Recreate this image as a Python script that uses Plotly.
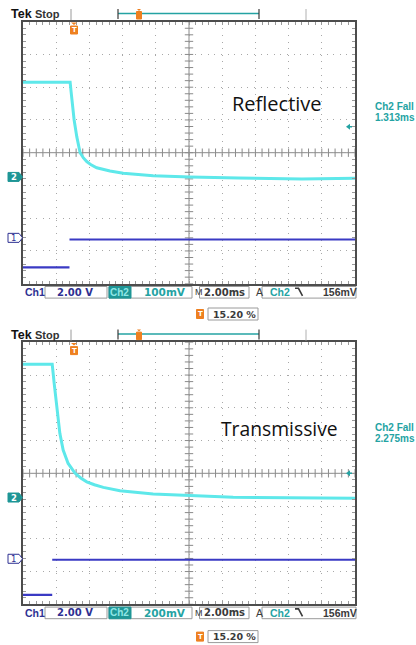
import numpy as np
import plotly.graph_objects as go

# ---------------- data (screen divisions: x 0..10, y -4..4) ----------------
ref_ch2_t = [0, 1.42, 1.45, 1.48, 1.54, 1.62, 1.72, 1.82, 1.92, 2.05, 2.22, 2.62, 3.02, 3.92, 5.03, 6.5, 8.4, 10]
ref_ch2_v = [2.15, 2.15, 1.85, 1.51, 1.00, 0.49, 0.00, -0.16, -0.27, -0.37, -0.46, -0.56, -0.63, -0.70, -0.74, -0.77, -0.80, -0.78]
ref_ch1_step = 1.40
ref_ch1_low = -3.50
ref_ch1_high = -2.65

trans_ch2_t = [0, 0.88, 0.94, 0.99, 1.05, 1.11, 1.21, 1.36, 1.57, 1.75, 1.92, 2.15, 2.42, 2.92, 3.92, 5.03, 6.33, 8.0, 10]
trans_ch2_v = [3.33, 3.33, 2.74, 2.23, 1.73, 1.22, 0.71, 0.30, 0.00, -0.15, -0.26, -0.35, -0.43, -0.53, -0.63, -0.68, -0.73, -0.75, -0.76]
trans_ch1_step = 0.88
trans_ch1_low = -3.71
trans_ch1_high = -2.64

panel_titles = ["Reflective", "Transmissive"]
ch2_scales = ["100mV", "200mV"]
fall_times = ["1.313ms", "2.275ms"]
ch2_marker_level = [-0.74, -0.74]
ch1_marker_level = [-2.60, -2.61]
trig_level = [0.79, 0.0]
ch1_scale = "2.00 V"
timebase = "2.00ms"
trig_value = "156mV"
trig_pos = "15.20 %"

# ---------------- layout helpers ----------------
W, H = 416, 645
def X(p): return p / W
def Y(p): return 1 - p / H

CYAN = "#5ee8ea"
BLUE = "#3a3ac4"
DBLUE = "#2e3192"
TEAL = "#24a3a3"
TEALF = "#1f9696"
ORANGE = "#ee8020"
GRAY = "#9a9a9a"
FRAME = "#4d4d4d"
DARK = "#3a3a3a"
DJ = "DejaVu Sans"
LB = "Liberation Sans"

L, R = 23, 355
PX_DIV_Y = 32.75
offsets = [0.0, 320.6]
centers = [152.7, 152.7 + 320.6]

fig = go.Figure()
shapes = []
ann = []

def txt(x, y, s, size=10, color=DARK, bold=True, anchor="left", family=DJ):
    ann.append(dict(x=X(x), y=Y(y), xref="paper", yref="paper", text=("<b>%s</b>" % s) if bold else s,
                    showarrow=False, xanchor=anchor, yanchor="middle",
                    font=dict(size=size, color=color, family=family)))

def rect(x0, y0, x1, y1, line=GRAY, fill=None, w=1):
    shapes.append(dict(type="rect", xref="paper", yref="paper", x0=X(x0), x1=X(x1), y0=Y(y0), y1=Y(y1),
                       line=dict(color=line, width=w), fillcolor=fill, layer="above"))

def seg(x0, y0, x1, y1, color, w=1):
    shapes.append(dict(type="line", xref="paper", yref="paper", x0=X(x0), x1=X(x1), y0=Y(y0), y1=Y(y1),
                       line=dict(color=color, width=w), layer="above"))

def path(pts, fill=None, line=None, w=1, closed=True):
    d = "M " + " L ".join("%f,%f" % (X(a), Y(b)) for a, b in pts) + (" Z" if closed else "")
    shapes.append(dict(type="path", xref="paper", yref="paper", path=d, fillcolor=fill,
                       line=dict(color=line if line else "rgba(0,0,0,0)", width=w), layer="above"))

datasets = [
    (ref_ch2_t, ref_ch2_v, ref_ch1_step, ref_ch1_low, ref_ch1_high),
    (trans_ch2_t, trans_ch2_v, trans_ch1_step, trans_ch1_low, trans_ch1_high),
]

for i, (t2, v2, st, lo, hi) in enumerate(datasets):
    off = offsets[i]
    cy = centers[i]
    top = cy - 4 * PX_DIV_Y
    bot = cy + 4 * PX_DIV_Y
    xa = "xaxis" if i == 0 else "xaxis2"
    ya = "yaxis" if i == 0 else "yaxis2"
    xr = "x" if i == 0 else "x2"
    yr = "y" if i == 0 else "y2"
    axcommon = dict(showticklabels=False, showline=True, linecolor=FRAME, linewidth=2, mirror="ticks",
                    ticks="inside", ticklen=3, tickcolor=GRAY, dtick=1, tick0=0,
                    minor=dict(dtick=0.2, ticks="inside", ticklen=3, tickcolor=GRAY, showgrid=False),
                    showgrid=True, gridcolor="#a8a8a8", gridwidth=1, griddash="1px,5.6px",
                    zeroline=False, fixedrange=True)
    fig.update_layout(**{
        xa: dict(axcommon, range=[0, 10], domain=[X(L), X(R)], anchor=yr),
        ya: dict(axcommon, range=[-4, 4], domain=[Y(bot), Y(top)], anchor=xr),
    })
    # center cross
    shapes.append(dict(type="line", xref=xr + " domain", yref=yr, x0=0, x1=1, y0=0, y1=0,
                       line=dict(color="#8a8a8a", width=1), layer="below"))
    shapes.append(dict(type="line", xref=xr, yref=yr + " domain", x0=5, x1=5, y0=0, y1=1,
                       line=dict(color="#8a8a8a", width=1), layer="below"))
    ticks_x = np.arange(0, 10.001, 0.2)
    ticks_y = np.arange(-4, 4.001, 0.2)
    fig.add_trace(go.Scatter(x=ticks_x, y=np.zeros_like(ticks_x), mode="markers", xaxis=xr, yaxis=yr,
                             marker=dict(symbol="line-ns", size=6, line=dict(color="#8a8a8a", width=1)),
                             hoverinfo="skip", showlegend=False))
    fig.add_trace(go.Scatter(x=np.full_like(ticks_y, 5), y=ticks_y, mode="markers", xaxis=xr, yaxis=yr,
                             marker=dict(symbol="line-ew", size=6, line=dict(color="#8a8a8a", width=1)),
                             hoverinfo="skip", showlegend=False))
    # traces
    fig.add_trace(go.Scatter(x=[0, st, None, st, 10], y=[lo, lo, None, hi, hi], mode="lines",
                             xaxis=xr, yaxis=yr, line=dict(color=BLUE, width=2.2), showlegend=False,
                             connectgaps=False))
    fig.add_trace(go.Scatter(x=t2, y=v2, mode="lines", xaxis=xr, yaxis=yr,
                             line=dict(color=CYAN, width=3), showlegend=False))

    # header
    txt(9, 14 + off, "Tek", size=12.5, color="#111", family=LB)
    txt(33, 14.5 + off, "Stop", size=11, color="#333", family=LB)
    seg(71, 9 + off, 71, 20 + off, GRAY)
    seg(306, 9 + off, 306, 20 + off, "#b0b0b0")
    seg(118, 13.5 + off, 259, 13.5 + off, TEAL, 1.5)
    seg(118, 9 + off, 118, 19 + off, DARK, 1.2)
    seg(259, 9 + off, 259, 19 + off, DARK, 1.2)
    path([(137, 9 + off), (141, 9 + off), (139, 11 + off)], fill=ORANGE)
    rect(136.5, 11.5 + off, 141.5, 19 + off, line=ORANGE, fill=ORANGE)
    # trigger position marker under frame top
    path([(71, 22.5 + off), (77, 22.5 + off), (74, 25 + off)], fill=ORANGE)
    rect(70.5, 26 + off, 77.5, 34 + off, line=ORANGE, fill=ORANGE)
    txt(74, 30.5 + off, "T", size=7, color="white", anchor="center")

    # panel title
    if i == 0:
        txt(277, 103 + off, panel_titles[i], size=20, color="#111", bold=False, anchor="center", family="Open Sans")
    else:
        txt(279.5, 107.5 + off, panel_titles[i], size=19.3, color="#111", bold=False, anchor="center", family="Open Sans")
    # right side readout
    txt(373, 107 + off, "Ch2 Fall", size=10, color=TEAL, family=LB)
    txt(373, 118 + off, fall_times[i], size=10, color=TEAL, family=LB)
    ty = cy - trig_level[i] * PX_DIV_Y
    path([(346, ty), (350, ty - 3), (350, ty + 3)], fill=TEAL)
    seg(350, ty, 352, ty, TEAL, 1.5)

    # left channel markers
    y2 = cy - ch2_marker_level[i] * PX_DIV_Y
    path([(8, y2 - 4.5), (19, y2 - 4.5), (22.5, y2), (19, y2 + 4.5), (8, y2 + 4.5)], fill=TEALF, line=TEALF)
    txt(13.5, y2, "2", size=8.5, color="white", anchor="center")
    y1 = cy - ch1_marker_level[i] * PX_DIV_Y
    path([(8, y1 - 4.5), (19, y1 - 4.5), (22.5, y1), (19, y1 + 4.5), (8, y1 + 4.5)], fill="white", line=DBLUE)
    txt(13.5, y1, "1", size=8.5, color=DBLUE, anchor="center", bold=False)

    # bottom readout row
    ry = 292.3 + off
    txt(22.5, ry, "Ch1", size=10.5, color=DBLUE, family=LB)
    rect(45, ry - 5.8, 107, ry + 5.8)
    txt(55, ry, ch1_scale, size=10, color=DBLUE)
    rect(109, ry - 5.8, 192, ry + 5.8)
    rect(109, ry - 5.8, 131, ry + 5.8, line=TEALF, fill=TEALF)
    txt(120, ry, "Ch2", size=10, color="#8fe6e6", anchor="center", family=LB)
    txt(141.5, ry, ch2_scales[i], size=10.5, color=TEAL)
    txt(192.5, ry, "M", size=9, color=DARK, bold=False, family=LB)
    rect(199.5, ry - 5.8, 249, ry + 5.8)
    txt(202, ry, timebase, size=10, color=DARK)
    txt(254, ry, "A", size=10.5, color=DARK, bold=False, family=LB)
    rect(262, ry - 5.8, 356, ry + 5.8)
    txt(267.5, ry, "Ch2", size=10.5, color=TEAL, family=LB)
    path([(295, ry - 4), (298.5, ry - 4), (302.5, ry + 3.5)], line=DARK, w=1.6, closed=False)
    txt(321, ry, trig_value, size=10.5, color=DARK, family=LB)

    # trigger position row
    py = 314 + off + (2 if i else 0)
    rect(196.5, py - 4.5, 203.5, py + 4.5, line=ORANGE, fill=ORANGE)
    txt(200, py, "T", size=7, color="white", anchor="center")
    rect(208, py - 6, 258, py + 6)
    txt(210.5, py, trig_pos, size=9.5, color=DARK)

fig.update_layout(width=W, height=H, margin=dict(l=0, r=0, t=0, b=0), autosize=False,
                  paper_bgcolor="white", plot_bgcolor="white", shapes=shapes, annotations=ann,
                  showlegend=False)
fig.write_html("out.html")
